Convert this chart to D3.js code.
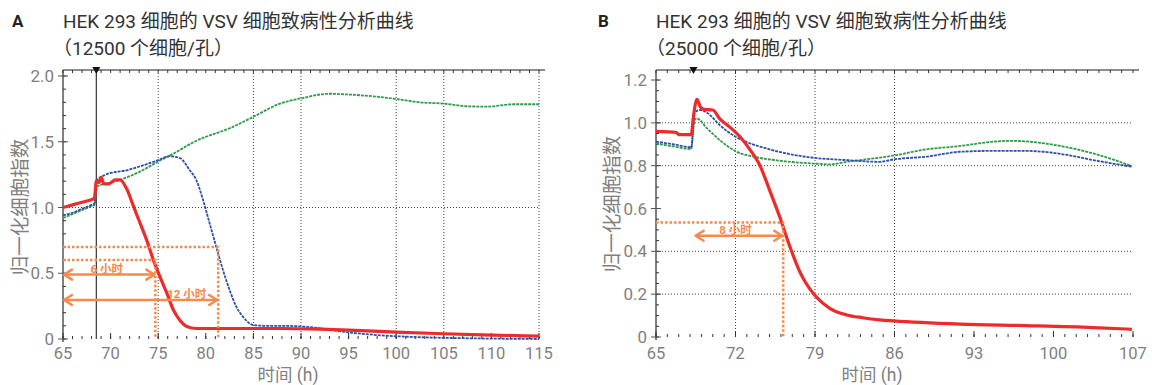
<!DOCTYPE html>
<html>
<head>
<meta charset="utf-8">
<script src="https://cdn.jsdelivr.net/npm/d3@7"></script>
<style>
  body { margin: 0; background: #fff; }
  text { font-family: Roboto, "Noto Sans CJK SC", sans-serif; }
</style>
</head>
<body>
<script>
// Panel A: 12500 cells/well  -- [hour, normalized cell index]
const aRed = [[65,1.0],[66,1.02],[67,1.04],[68,1.06],[68.3,1.07],[68.5,1.2],[68.8,1.19],[69,1.23],[69.3,1.18],[69.8,1.18],[70.5,1.21],[71,1.21],[71.7,1.14],[72.4,1.01],[73.1,0.88],[73.8,0.75],[74.5,0.6],[75.2,0.47],[75.9,0.35],[76.6,0.22],[77.3,0.14],[78,0.095],[79,0.08],[82,0.08],[85,0.08],[88,0.08],[92,0.075],[95,0.068],[100,0.052],[105,0.04],[110,0.03],[115,0.022]];
const aBlue = [[65,0.94],[66,0.96],[67,0.99],[68,1.02],[68.3,1.03],[68.5,1.2],[69.5,1.25],[70.5,1.27],[71.5,1.28],[72.5,1.3],[74,1.335],[75,1.36],[76.2,1.39],[77.3,1.375],[78.3,1.285],[79,1.21],[79.7,1.06],[80.4,0.88],[81.1,0.7],[81.8,0.525],[82.5,0.373],[83.2,0.246],[83.9,0.17],[85,0.106],[86.4,0.1],[88,0.1],[91,0.09],[95,0.05],[98,0.03],[102,0.015],[108,0.005],[115,0.0]];
const aGreen = [[65,0.92],[66,0.95],[67,0.98],[68,1.01],[68.3,1.02],[68.6,1.16],[69.5,1.18],[71,1.21],[73.4,1.285],[75,1.35],[76.6,1.41],[78.8,1.5],[82.9,1.615],[85,1.69],[87.8,1.79],[90,1.83],[93,1.865],[94.8,1.86],[98.3,1.84],[100,1.825],[102.5,1.8],[105,1.79],[107.4,1.77],[109.5,1.767],[112.3,1.785],[115,1.785]];

// Panel B: 25000 cells/well
const bRed = [[65,0.96],[66.8,0.955],[67,0.945],[68.1,0.945],[68.3,1.03],[68.6,1.11],[68.9,1.075],[69.2,1.063],[70,1.06],[70.6,1.02],[71.5,0.98],[72.4,0.935],[73.3,0.873],[74.2,0.795],[75,0.686],[75.9,0.56],[76.8,0.42],[77.7,0.3],[78.6,0.22],[79.15,0.185],[80.3,0.134],[81.8,0.103],[83.2,0.09],[84.7,0.08],[85.9,0.075],[91.8,0.06],[97.6,0.053],[103.5,0.044],[106.9,0.036]];
const bBlue = [[65,0.912],[66.5,0.9],[68.1,0.886],[68.4,1.05],[68.9,1.06],[69.5,1.047],[70.6,0.99],[72.1,0.932],[72.9,0.912],[74.75,0.88],[76.5,0.857],[78.85,0.837],[81.8,0.826],[84.7,0.818],[85.9,0.829],[88.8,0.842],[91.8,0.865],[94.7,0.869],[97.6,0.869],[99.1,0.865],[101.2,0.85],[103.5,0.826],[106.9,0.795]];
const bGreen = [[65,0.904],[66.5,0.89],[68.1,0.878],[68.4,1.013],[68.6,1.02],[69.5,0.974],[70.6,0.92],[72.1,0.865],[73.6,0.842],[75.9,0.823],[78.85,0.81],[80.3,0.806],[81.8,0.818],[83,0.826],[85.9,0.847],[88.8,0.876],[91.8,0.892],[94.7,0.912],[96.2,0.916],[97.6,0.913],[100.6,0.892],[103.5,0.857],[106.9,0.798]];

// axes / grid
const aXTicks = [65,70,75,80,85,90,95,100,105,110,115];
const aYTicks = [0,0.5,1.0,1.5,2.0];
const aXGrid = [75,85,90,100,105,115];
const aYGrid = [1.0];
const bXTicks = [65,72,79,86,93,100,107];
const bYTicks = [0,0.2,0.4,0.6,0.8,1.0,1.2];
const bXGrid = [72,79,86];
const bYGrid = [0.2,0.4,0.8,1.0];

// annotations: guide level + crossing hour, double arrows
const aGuides = [{y:0.7, x:81.3},{y:0.6, x:74.7}];
const aArrows = [{y:0.49, from:65, to:74.7, label:"6 小时", lx:69.6},{y:0.297, from:65, to:81.3, label:"12 小时", lx:78}];
const bGuides = [{y:0.535, x:76.2}];
const bArrows = [{y:0.473, from:68.4, to:76.2, label:"8 小时", lx:72}];

const width = 1152, height = 385;
const orange = "#f58a4e";

const svg = d3.select("body").append("svg")
    .attr("width", width)
    .attr("height", height);
svg.append("rect").attr("width", width).attr("height", height).attr("fill", "#fff");

function panel(o) {
    const x = d3.scaleLinear().domain(o.xDomain).range([o.left, o.right]);
    const y = d3.scaleLinear().domain(o.yDomain).range([o.bottom, o.yTopPx]);
    const g = svg.append("g");

    // titles
    g.append("text").attr("x", o.letterX).attr("y", 27)
        .attr("font-size", 17).attr("font-weight", "bold").attr("fill", "#222").text(o.letter);
    g.append("text").attr("x", o.left).attr("y", 28)
        .attr("font-size", 19).attr("fill", "#333").text(o.title1);
    g.append("text").attr("x", o.left - 10).attr("y", 55)
        .attr("font-size", 19).attr("fill", "#333").text(o.title2);

    // grid
    g.selectAll(".vg").data(o.xGrid).join("line")
        .attr("x1", d => x(d)).attr("x2", d => x(d))
        .attr("y1", o.top).attr("y2", o.bottom)
        .attr("stroke", "#444").attr("stroke-width", 1).attr("stroke-dasharray", "1,2");
    g.selectAll(".hg").data(o.yGrid).join("line")
        .attr("x1", o.left).attr("x2", o.right)
        .attr("y1", d => y(d)).attr("y2", d => y(d))
        .attr("stroke", "#444").attr("stroke-width", 1).attr("stroke-dasharray", "1,2");

    // frame: top and left
    g.append("line").attr("x1", o.left).attr("x2", o.right + 6)
        .attr("y1", o.top).attr("y2", o.top).attr("stroke", "#666").attr("stroke-width", 1.5);
    g.append("line").attr("x1", o.left).attr("x2", o.left)
        .attr("y1", o.top).attr("y2", o.bottom + 3).attr("stroke", "#555").attr("stroke-width", 1.5);

    // minor ticks
    const minorX = d3.range(o.xDomain[0], o.xDomain[1] + 0.01, 1);
    g.selectAll(".mxb").data(minorX).join("line")
        .attr("x1", d => x(d)).attr("x2", d => x(d))
        .attr("y1", o.bottom).attr("y2", o.bottom - 3).attr("stroke", "#333");
    g.selectAll(".mxt").data(minorX).join("line")
        .attr("x1", d => x(d)).attr("x2", d => x(d))
        .attr("y1", o.top).attr("y2", o.top + 3).attr("stroke", "#333");
    const minorY = d3.range(0, o.yDomain[1] + 0.001, o.yMinor);
    g.selectAll(".my").data(minorY).join("line")
        .attr("x1", o.left).attr("x2", o.left + 3)
        .attr("y1", d => y(d)).attr("y2", d => y(d)).attr("stroke", "#333");

    // major ticks
    g.selectAll(".Mx").data(o.xTicks).join("line")
        .attr("x1", d => x(d)).attr("x2", d => x(d))
        .attr("y1", o.bottom).attr("y2", o.bottom - 6).attr("stroke", "#333");
    g.selectAll(".My").data(o.yTicks).join("line")
        .attr("x1", o.left - 5).attr("x2", o.left + 5)
        .attr("y1", d => y(d)).attr("y2", d => y(d)).attr("stroke", "#555");

    // tick labels
    g.selectAll(".xl").data(o.xTicks).join("text")
        .attr("x", d => x(d)).attr("y", 359)
        .attr("text-anchor", "middle").attr("font-size", 16.5).attr("fill", "#7f7f7f")
        .text(d => d);
    g.selectAll(".yl").data(o.yTicks).join("text")
        .attr("x", o.left - 9).attr("y", d => y(d) + 6)
        .attr("text-anchor", "end").attr("font-size", 17).attr("fill", "#7f7f7f")
        .text(d => d === 0 ? "0" : d3.format(".1f")(d));

    // axis titles
    g.append("text").attr("x", o.xTitleX).attr("y", 381)
        .attr("text-anchor", "middle").attr("font-size", 17.5).attr("fill", "#7f7f7f").text("时间 (h)");
    g.append("text").attr("transform", `translate(${o.yTitleX},${o.yTitleY}) rotate(-90)`)
        .attr("text-anchor", "middle").attr("font-size", 19.5).attr("fill", "#7f7f7f").text("归一化细胞指数");

    // event marker
    if (o.vline) {
        g.append("line").attr("x1", x(o.event)).attr("x2", x(o.event))
            .attr("y1", o.top).attr("y2", o.bottom).attr("stroke", "#333").attr("stroke-width", 1.2);
    }
    g.append("path")
        .attr("d", `M${x(o.event) - 4},${o.top - 3}L${x(o.event) + 4},${o.top - 3}L${x(o.event)},${o.top + 4}Z`)
        .attr("fill", "#111");

    // series
    const line = d3.line().x(d => x(d[0])).y(d => y(d[1])).curve(d3.curveMonotoneX);
    const series = [
        {data: o.green, color: "#2e9a4b", w: 1.8, dash: "3,1"},
        {data: o.blue, color: "#2b4ea6", w: 1.8, dash: "3,1"},
        {data: o.red, color: "#ee2a2a", w: 3.2, dash: null}
    ];
    series.forEach(s => {
        g.append("path").datum(s.data).attr("d", line)
            .attr("fill", "none").attr("stroke", s.color).attr("stroke-width", s.w)
            .attr("stroke-dasharray", s.dash);
    });

    // orange guides
    o.guides.forEach(gd => {
        g.append("path")
            .attr("d", `M${o.left},${y(gd.y)}H${x(gd.x)}V${o.bottom}`)
            .attr("fill", "none").attr("stroke", orange).attr("stroke-width", 2.5)
            .attr("stroke-dasharray", "2.5,2");
    });
    o.arrows.forEach(a => {
        const yy = y(a.y), x1 = x(a.from), x2 = x(a.to);
        g.append("line").attr("x1", x1 + 1).attr("x2", x2 - 1).attr("y1", yy).attr("y2", yy)
            .attr("stroke", orange).attr("stroke-width", 2.5);
        g.append("path")
            .attr("d", `M${x1 + 9},${yy - 5}L${x1 + 1},${yy}L${x1 + 9},${yy + 5}M${x2 - 9},${yy - 5}L${x2 - 1},${yy}L${x2 - 9},${yy + 5}`)
            .attr("fill", "none").attr("stroke", orange).attr("stroke-width", 2.5)
            .attr("stroke-linecap", "round").attr("stroke-linejoin", "round");
        g.append("text").attr("x", x(a.lx)).attr("y", yy - 2)
            .attr("text-anchor", "middle").attr("font-size", 11.5).attr("font-weight", "bold")
            .attr("fill", orange).text(a.label);
    });
}

panel({
    letter: "A", letterX: 12,
    title1: "HEK 293 细胞的 VSV 细胞致病性分析曲线", title2: "（12500 个细胞/孔）",
    xDomain: [65, 115], yDomain: [0, 2.0], yMinor: 0.1,
    left: 63, right: 539, top: 70, bottom: 339, yTopPx: 76,
    xTicks: aXTicks, yTicks: aYTicks, xGrid: aXGrid, yGrid: aYGrid,
    xTitleX: 288, yTitleX: 27, yTitleY: 207,
    event: 68.5, vline: true,
    red: aRed, blue: aBlue, green: aGreen,
    guides: aGuides, arrows: aArrows
});

panel({
    letter: "B", letterX: 598,
    title1: "HEK 293 细胞的 VSV 细胞致病性分析曲线", title2: "（25000 个细胞/孔）",
    xDomain: [65, 107], yDomain: [0, 1.2], yMinor: 0.05,
    left: 656, right: 1133, top: 70, bottom: 337, yTopPx: 80,
    xTicks: bXTicks, yTicks: bYTicks, xGrid: bXGrid, yGrid: bYGrid,
    xTitleX: 872, yTitleX: 619, yTitleY: 204,
    event: 68.3, vline: false,
    red: bRed, blue: bBlue, green: bGreen,
    guides: bGuides, arrows: bArrows
});
</script>
</body>
</html>
